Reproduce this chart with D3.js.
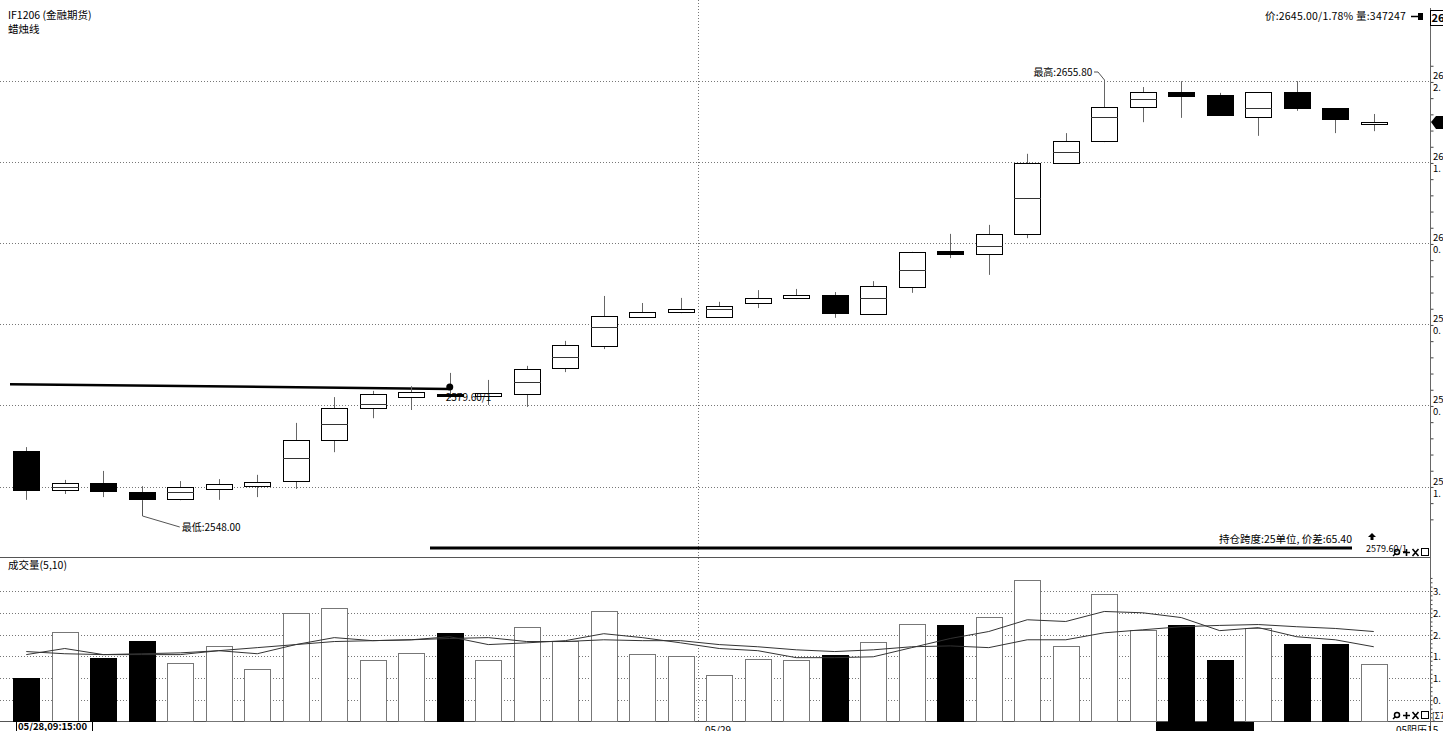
<!DOCTYPE html>
<html><head><meta charset="utf-8">
<script src="https://cdn.jsdelivr.net/npm/d3@7"></script>
<style>
body{margin:0;background:#fff;overflow:hidden;}
svg{display:block;}
text{font-family:"Noto Sans CJK SC","DejaVu Sans",sans-serif;font-size:11px;fill:#000;}
</style>
</head><body>
<svg id="c" width="1443" height="731"></svg>
<script>
const categories = [
 "05/28 09:30","05/28 09:45","05/28 10:00","05/28 10:15","05/28 10:30","05/28 10:45","05/28 11:00","05/28 11:15","05/28 11:30",
 "05/28 13:15","05/28 13:30","05/28 13:45","05/28 14:00","05/28 14:15","05/28 14:30","05/28 14:45","05/28 15:00","05/28 15:15",
 "05/29 09:30","05/29 09:45","05/29 10:00","05/29 10:15","05/29 10:30","05/29 10:45","05/29 11:00","05/29 11:15","05/29 11:30",
 "05/29 13:15","05/29 13:30","05/29 13:45","05/29 14:00","05/29 14:15","05/29 14:30","05/29 14:45","05/29 15:00","05/29 15:15"];
const open  = [2560.8,2550.8,2552.6,2550.3,2548.5,2551.1,2551.8,2553.1,2563.6,2571.8,2574.6,2575.4,2574.9,2575.4,2582.1,2587.7,2595.1,2596.4,
               2595.1,2598.7,2600.0,2600.8,2595.9,2602.8,2612.0,2611.2,2616.4,2634.5,2640.2,2648.9,2652.7,2652.0,2646.3,2652.7,2648.6,2644.4];
const high  = [2561.8,2553.4,2555.7,2551.8,2553.1,2553.6,2554.7,2568.0,2574.6,2576.2,2577.4,2580.8,2579.0,2582.6,2589.0,2600.5,2598.7,2600.0,
               2599.0,2602.0,2602.3,2601.5,2604.3,2611.8,2616.4,2618.7,2636.9,2642.2,2655.8,2654.0,2655.5,2652.5,2652.7,2655.5,2648.6,2647.1];
const low   = [2548.3,2549.8,2549.0,2548.0,2548.2,2548.3,2549.0,2551.1,2560.5,2569.2,2571.3,2574.4,2572.6,2572.1,2581.0,2586.9,2595.1,2596.1,
               2595.1,2597.4,2599.7,2594.9,2595.9,2601.3,2610.2,2605.9,2615.3,2634.5,2639.9,2645.0,2646.1,2646.6,2641.5,2647.9,2642.2,2642.7];
const close = [2550.8,2552.6,2550.6,2548.5,2551.6,2552.4,2552.9,2563.6,2571.8,2575.4,2575.9,2574.9,2575.7,2581.8,2587.9,2595.4,2596.4,2597.2,
               2597.9,2600.0,2600.8,2596.1,2603.1,2611.8,2611.2,2616.4,2634.5,2640.2,2648.9,2652.7,2651.7,2646.8,2652.7,2648.6,2645.8,2645.0];
const midLine = [null,2551.6,null,null,2550.3,null,null,2559.0,2567.7,2572.8,null,null,null,2578.5,2584.9,2592.6,null,null,
                 2597.2,null,null,null,2600.0,2607.1,null,2613.3,2625.6,2637.4,2646.3,2650.9,null,null,2648.6,null,null,null];
const volume = [1.01,2.07,1.47,1.86,1.35,1.74,1.21,2.50,2.62,1.42,1.58,2.04,1.42,2.18,1.86,2.55,1.56,1.51,
                1.08,1.44,1.42,1.54,1.84,2.25,2.21,2.41,3.26,1.74,2.94,2.11,2.23,1.42,2.16,1.79,1.79,1.33];
const volMA5  = [1.54,1.68,1.54,1.54,1.54,1.63,1.56,1.77,1.93,1.86,1.88,1.95,1.77,1.81,1.86,2.02,1.93,1.81,
                 1.68,1.63,1.47,1.47,1.49,1.70,1.91,2.07,2.34,2.30,2.53,2.50,2.39,2.09,2.16,1.95,1.88,1.72];
const volMA10 = [1.61,1.56,1.54,1.56,1.58,1.63,1.70,1.77,1.84,1.86,1.88,1.91,1.93,1.84,1.84,1.88,1.86,1.86,
                 1.77,1.72,1.65,1.61,1.65,1.72,1.74,1.70,1.88,1.88,2.04,2.11,2.18,2.21,2.23,2.18,2.14,2.07];
const priceTicks = [2655.5,2634.8,2614.1,2593.3,2572.6,2551.6];
const priceTickTop = ["26","26","26","25","25","25"];
const priceTickBottom = ["2.","1.","0.","0.","0.","1."];
const volTicks = [3.0,2.5,2.0,1.5,1.0,0.5];
const volTickLabels = ["3.","2.","2.","1.","1.","0."];
const holdLine = [2577.9,2576.7];
const holdPrice = 2579.60;
const lastPrice = 2645.0;

const svg = d3.select("#c");
const W = 1443, axisX = 1430;
const x = d3.scaleBand().domain(d3.range(categories.length)).range([7,1393]).paddingInner(0.325).paddingOuter(0.1625);
const cx = i => x(i) + x.bandwidth()/2;
const bw = x.bandwidth();
const y = d3.scaleLinear().domain([2548.0,2655.8]).range([501,80]);
const yv = d3.scaleLinear().domain([0,3]).range([721.7,591]);

const grid = svg.append("g");
grid.selectAll("line.pg").data(priceTicks).join("line")
  .attr("x1",0).attr("x2",axisX).attr("y1",d=>Math.round(y(d))+0.5).attr("y2",d=>Math.round(y(d))+0.5)
  .attr("stroke","#777").attr("stroke-dasharray","1,2");
grid.selectAll("line.vg").data(volTicks).join("line")
  .attr("x1",0).attr("x2",axisX).attr("y1",d=>Math.round(yv(d))+0.5).attr("y2",d=>Math.round(yv(d))+0.5)
  .attr("stroke","#777").attr("stroke-dasharray","1,2");
const sepX = Math.round((cx(17)+cx(18))/2) - 2 + 0.5;
grid.append("line").attr("x1",sepX).attr("x2",sepX).attr("y1",0).attr("y2",721)
  .attr("stroke","#777").attr("stroke-dasharray","1,2");

svg.append("line").attr("x1",0).attr("x2",axisX).attr("y1",557.5).attr("y2",557.5).attr("stroke","#555");
svg.append("line").attr("x1",0).attr("x2",W).attr("y1",721.5).attr("y2",721.5).attr("stroke","#555");

// right axis
const minorP = d3.range(priceTicks[5]-4.148*2, 2662, 4.148);
svg.append("g").attr("transform",`translate(${axisX+0.5},0)`)
  .call(d3.axisRight(y).tickValues(minorP).tickSize(3).tickFormat(""))
  .call(g=>g.select(".domain").remove())
  .call(g=>g.selectAll("line").attr("stroke","#444"));
const minorV = d3.range(0.1, 3.35, 0.1);
svg.append("g").attr("transform",`translate(${axisX+0.5},0)`)
  .call(d3.axisRight(yv).tickValues(minorV).tickSize(2).tickFormat(""))
  .call(g=>g.select(".domain").remove())
  .call(g=>g.selectAll("line").attr("stroke","#444"));
svg.append("line").attr("x1",axisX+0.5).attr("x2",axisX+0.5).attr("y1",8).attr("y2",731).attr("stroke","#666");
const pl = svg.append("g");
priceTicks.forEach((t,i)=>{
  pl.append("text").attr("x",axisX+3).attr("y",Math.round(y(t))-2).text(priceTickTop[i]).style("font-size","9.5px");
  pl.append("text").attr("x",axisX+3).attr("y",Math.round(y(t))+10).text(priceTickBottom[i]).style("font-size","9.5px");
});
volTicks.forEach((t,i)=>{
  pl.append("text").attr("x",axisX+3).attr("y",Math.round(yv(t))+4).text(volTickLabels[i]).style("font-size","9.5px");
});

// hold line (thick)
svg.append("line").attr("x1",10).attr("x2",cx(11)).attr("y1",y(holdLine[0])).attr("y2",y(holdLine[1]))
  .attr("stroke","#000").attr("stroke-width",2.5);

// candles
const cg = svg.append("g");
d3.range(categories.length).forEach(i=>{
  const up = close[i] >= open[i];
  const X = Math.round(cx(i)) + 0.5;
  cg.append("line").attr("x1",X).attr("x2",X).attr("y1",y(high[i])).attr("y2",y(low[i])).attr("stroke","#666");
  const top = y(Math.max(open[i],close[i])), bot = y(Math.min(open[i],close[i]));
  const h = Math.max(bot-top, 2);
  cg.append("rect").attr("x",Math.round(x(i))+0.5).attr("y",Math.round(top)+0.5).attr("width",Math.round(bw)).attr("height",Math.round(h))
    .attr("fill", up ? "#fff" : "#000").attr("stroke","#000").attr("stroke-width",1);
  if (midLine[i] != null) {
    cg.append("line").attr("x1",Math.round(x(i))).attr("x2",Math.round(x(i)+bw)+1).attr("y1",Math.round(y(midLine[i]))+0.5).attr("y2",Math.round(y(midLine[i]))+0.5)
      .attr("stroke","#333");
  }
});
svg.append("circle").attr("cx",cx(11)).attr("cy",y(holdLine[1])-2).attr("r",3.5).attr("fill","#000");
svg.append("text").attr("x",cx(11)-4).attr("y",y(holdLine[1])+12).text(holdPrice.toFixed(2)+"/1").style("font-size","10px").attr("fill","#333");

// volume bars
const vg = svg.append("g");
d3.range(categories.length).forEach(i=>{
  const up = close[i] >= open[i];
  vg.append("rect").attr("x",Math.round(x(i))+0.5).attr("y",Math.round(yv(volume[i]))+0.5).attr("width",Math.round(bw))
    .attr("height",721-Math.round(yv(volume[i])))
    .attr("fill", up ? "#fff" : "#000").attr("stroke", up ? "#777" : "#000");
});
const lineGen = d3.line().x((d,i)=>cx(i)).y(d=>yv(d));
svg.append("path").attr("d",lineGen(volMA5)).attr("fill","none").attr("stroke","#333").attr("stroke-width",1);
svg.append("path").attr("d",lineGen(volMA10)).attr("fill","none").attr("stroke","#333").attr("stroke-width",1);

// high / low annotations
const hi = d3.maxIndex(high), lo = d3.minIndex(low);
svg.append("polyline").attr("points",`${Math.round(cx(hi))+0.5},${y(high[hi])} ${Math.round(cx(hi))-6},${y(high[hi])-8} ${Math.round(cx(hi))-10},${y(high[hi])-8}`)
  .attr("fill","none").attr("stroke","#555");
svg.append("text").attr("x",cx(hi)-12).attr("y",y(high[hi])-4).attr("text-anchor","end").text("最高:" + high[hi].toFixed(2)).style("font-size","10px");
svg.append("polyline").attr("points",`${Math.round(cx(lo))+0.5},${y(low[lo])} ${Math.round(cx(lo))+0.5},${y(low[lo])+15} ${cx(lo)+38},${y(low[lo])+26}`)
  .attr("fill","none").attr("stroke","#555");
svg.append("text").attr("x",cx(lo)+40).attr("y",y(low[lo])+30).text("最低:" + low[lo].toFixed(2)).style("font-size","10px");

// span line
svg.append("line").attr("x1",430).attr("x2",1352).attr("y1",548).attr("y2",548).attr("stroke","#000").attr("stroke-width",3);
svg.append("text").attr("x",1352).attr("y",543).attr("text-anchor","end").text("持仓跨度:25单位, 价差:" + (lastPrice-holdPrice).toFixed(2)).style("font-size","10.5px");
svg.append("path").attr("d","M1372,533 l-4,4 h2.5 v3 h3 v-3 h2.5 z").attr("fill","#000");
svg.append("text").attr("x",1366).attr("y",552).text(holdPrice.toFixed(2)+"/1").style("font-size","9px");

function icons(x0,y0){
  const g = svg.append("g").attr("transform",`translate(${x0},${y0})`);
  g.append("circle").attr("cx",4).attr("cy",-5).attr("r",2.5).attr("fill","none").attr("stroke","#000").attr("stroke-width",1.5);
  g.append("line").attr("x1",2).attr("y1",-3).attr("x2",0).attr("y2",-1).attr("stroke","#000").attr("stroke-width",1.5);
  g.append("path").attr("d","M10,-4.5 h7 M13.5,-8 v7").attr("stroke","#000").attr("stroke-width",1.6);
  g.append("path").attr("d","M19.5,-8 l6,7 M25.5,-8 l-6,7").attr("stroke","#000").attr("stroke-width",1.6);
  g.append("rect").attr("x",28.5).attr("y",-8.5).attr("width",7).attr("height",7).attr("fill","none").attr("stroke","#000");
}
icons(1393,557);
icons(1393,720);
svg.append("text").attr("x",1432).attr("y",719).text("[Σ7").style("font-size","8.5px");

// header texts
svg.append("text").attr("x",8).attr("y",19).text("IF1206  (金融期货)").style("font-size","10.5px");
svg.append("text").attr("x",8).attr("y",33).text("蜡烛线").style("font-size","10.5px");
svg.append("text").attr("x",1265).attr("y",20).text("价:2645.00/1.78% 量:347247").style("font-size","10.5px").style("letter-spacing","0.2px");
svg.append("path").attr("d","M1411,16.5 h7").attr("stroke","#000").attr("stroke-width",1.5);
svg.append("rect").attr("x",1418).attr("y",13).attr("width",5).attr("height",7).attr("fill","#000");
svg.append("rect").attr("x",1430.5).attr("y",10.5).attr("width",13).attr("height",15).attr("fill","#fff").attr("stroke","#000");
svg.append("text").attr("x",1431.5).attr("y",22).text("26").style("font-size","11px").style("font-weight","bold");
const lp = Math.round(y(lastPrice));
svg.append("path").attr("d",`M1431,${lp} l5,-6 h8 v13 h-8 z`).attr("fill","#000");

svg.append("text").attr("x",8).attr("y",569).text("成交量(5,10)").style("font-size","10.5px");

// bottom labels
svg.append("rect").attr("x",16.5).attr("y",721.5).attr("width",76).attr("height",11).attr("fill","#fff").attr("stroke","#000");
svg.append("text").attr("x",18).attr("y",730).text("05/28,09:15:00").style("font-size","9.5px").style("font-weight","bold");
svg.append("text").attr("x",705).attr("y",734).text("05/29").style("font-size","10px");
svg.append("text").attr("x",1396).attr("y",734).text("05阴历15").style("font-size","10px");
svg.append("rect").attr("x",1156).attr("y",722).attr("width",98).attr("height",9).attr("fill","#000");
</script>
</body></html>
